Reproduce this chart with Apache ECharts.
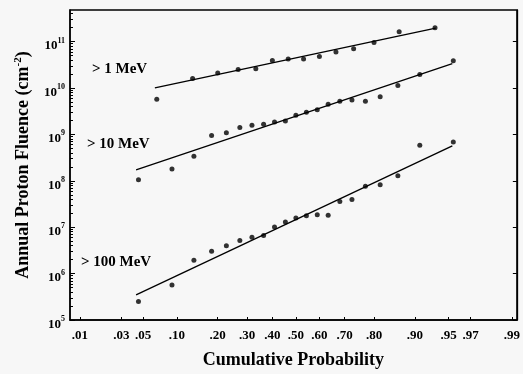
<!DOCTYPE html>
<html>
<head>
<meta charset="utf-8">
<script src="https://cdn.jsdelivr.net/npm/echarts@6/dist/echarts.min.js"></script>
<style>
html,body{margin:0;padding:0;background:#f7f7f7}
#chart{width:523px;height:374px}
</style>
</head>
<body>
<div id="chart"></div>
<script>
// x tick labels (cumulative probability) and y decades
var probTicks = [0.01, 0.03, 0.05, 0.10, 0.20, 0.30, 0.40, 0.50, 0.60, 0.70, 0.80, 0.90, 0.95, 0.97, 0.99];
var decades = [5, 6, 7, 8, 9, 10, 11];

// > 1 MeV, 14 years
var prob1 = [0.067, 0.133, 0.200, 0.267, 0.333, 0.400, 0.467, 0.533, 0.600, 0.667, 0.733, 0.800, 0.867, 0.933];
var flu1 = [5.7e9, 1.6e10, 2.1e10, 2.5e10, 2.6e10, 3.9e10, 4.2e10, 4.2e10, 4.8e10, 6.0e10, 7.0e10, 9.6e10, 1.64e11, 2.0e11];
// > 10 MeV and > 100 MeV, 21 years
var prob21 = [0.045, 0.091, 0.136, 0.182, 0.227, 0.273, 0.318, 0.364, 0.409, 0.455, 0.500, 0.545, 0.591, 0.636, 0.682, 0.727, 0.773, 0.818, 0.864, 0.909, 0.955];
var flu10 = [1.06e8, 1.8e8, 3.4e8, 9.5e8, 1.09e9, 1.41e9, 1.57e9, 1.65e9, 1.85e9, 1.95e9, 2.58e9, 2.99e9, 3.41e9, 4.44e9, 5.21e9, 5.48e9, 5.21e9, 6.49e9, 1.13e10, 1.95e10, 3.88e10];
var flu100 = [2.5e5, 5.7e5, 1.95e6, 3.05e6, 3.98e6, 5.16e6, 6.08e6, 6.61e6, 1.01e7, 1.3e7, 1.58e7, 1.77e7, 1.86e7, 1.8e7, 3.59e7, 3.96e7, 7.66e7, 8.17e7, 1.29e8, 5.87e8, 6.9e8];

// fitted lines (end points)
var fitProb1 = [0.0644, 0.934];
var fitFlu1 = [1.01e10, 1.95e11];
var fitProb = [0.0426, 0.954];
var fitFlu10 = [1.71e8, 3.35e10];
var fitFlu100 = [3.48e5, 5.67e8];

var seriesNames = ['> 1 MeV', '> 10 MeV', '> 100 MeV'];

// inverse normal cdf (Acklam)
function probit(p) {
    var a = [-3.969683028665376e+01, 2.209460984245205e+02, -2.759285104469687e+02, 1.383577518672690e+02, -3.066479806614716e+01, 2.506628277459239e+00];
    var b = [-5.447609879822406e+01, 1.615858368580409e+02, -1.556989798598866e+02, 6.680131188771972e+01, -1.328068155288572e+01];
    var c = [-7.784894002430293e-03, -3.223964580411365e-01, -2.400758277161838e+00, -2.549732539343734e+00, 4.374664141464968e+00, 2.938163982698783e+00];
    var d = [7.784695709041462e-03, 3.224671290700398e-01, 2.445134137142996e+00, 3.754408661907416e+00];
    var pl = 0.02425, q, r;
    if (p < pl) {
        q = Math.sqrt(-2 * Math.log(p));
        return (((((c[0]*q+c[1])*q+c[2])*q+c[3])*q+c[4])*q+c[5]) / ((((d[0]*q+d[1])*q+d[2])*q+d[3])*q+1);
    }
    if (p > 1 - pl) {
        q = Math.sqrt(-2 * Math.log(1 - p));
        return -(((((c[0]*q+c[1])*q+c[2])*q+c[3])*q+c[4])*q+c[5]) / ((((d[0]*q+d[1])*q+d[2])*q+d[3])*q+1);
    }
    q = p - 0.5; r = q * q;
    return (((((a[0]*r+a[1])*r+a[2])*r+a[3])*r+a[4])*r+a[5])*q / (((((b[0]*r+b[1])*r+b[2])*r+b[3])*r+b[4])*r+1);
}

function pts(probs, flus) {
    return probs.map(function (p, i) { return [probit(p), Math.log10(flus[i])]; });
}

var xTicks = probTicks.map(probit);
var yMax = 11.681;
var minorTicks = [];
decades.forEach(function (dd) {
    for (var k = 2; k <= 9; k++) {
        var v = dd + Math.log10(k);
        if (v < yMax) minorTicks.push(v);
    }
});

var serif = '"Liberation Serif", "DejaVu Serif", serif';

let chart = echarts.init(document.getElementById('chart'));
let option = {
    backgroundColor: '#f7f7f7',
    animation: false,
    grid: {
        left: 70, right: 2, top: 10, bottom: 52,
        show: true, borderColor: '#000', borderWidth: 1.3
    },
    xAxis: {
        type: 'value',
        min: -2.433, max: 2.38,
        name: 'Cumulative Probability',
        nameLocation: 'middle',
        nameGap: 31,
        nameTextStyle: { fontFamily: serif, fontWeight: 'bold', fontSize: 18, color: '#000' },
        axisLine: { onZero: false, lineStyle: { color: '#000', width: 1.5 } },
        axisTick: { customValues: xTicks, inside: true, length: 3, lineStyle: { color: '#000' } },
        axisLabel: {
            customValues: xTicks,
            margin: 9,
            fontFamily: serif, fontWeight: 'bold', fontSize: 13, color: '#000',
            formatter: function (v) {
                for (var i = 0; i < xTicks.length; i++) {
                    if (Math.abs(xTicks[i] - v) < 1e-6) {
                        var s = String(Math.round(probTicks[i] * 100));
                        return '.' + (s.length < 2 ? '0' + s : s);
                    }
                }
                return '';
            }
        },
        splitLine: { show: false }
    },
    yAxis: [
        {
            type: 'value',
            min: 5, max: yMax,
            position: 'left',
            name: 'Annual Proton Fluence (cm{s|-2})',
            nameLocation: 'middle',
            nameGap: 37,
            nameRotate: 90,
            nameTextStyle: {
                fontFamily: serif, fontWeight: 'bold', fontSize: 18, color: '#000',
                rich: { s: { fontFamily: serif, fontWeight: 'bold', fontSize: 11, padding: [0, 0, 9, 0], color: '#000' } }
            },
            axisLine: { onZero: false, lineStyle: { color: '#000', width: 1.5 } },
            axisTick: { customValues: decades, inside: true, length: 5, lineStyle: { color: '#000' } },
            axisLabel: {
                customValues: decades,
                margin: 5,
                color: '#000',
                formatter: function (v) { return '{b|10}{s|' + v + '}'; },
                rich: {
                    b: { fontFamily: serif, fontWeight: 'bold', fontSize: 13, color: '#000', padding: [9, 0, 0, 0] },
                    s: { fontFamily: serif, fontWeight: 'bold', fontSize: 8, color: '#000', padding: [0, 0, 2, 0] }
                }
            },
            splitLine: { show: false }
        },
        {
            // minor ticks on the left
            type: 'value',
            min: 5, max: yMax,
            position: 'left',
            axisLine: { show: false, onZero: false },
            axisTick: { customValues: minorTicks, inside: true, length: 3, lineStyle: { color: '#000' } },
            axisLabel: { show: false },
            splitLine: { show: false }
        },
        {
            type: 'value',
            min: 5, max: yMax,
            position: 'right',
            axisLine: { onZero: false, lineStyle: { color: '#000', width: 1.3 } },
            axisTick: { customValues: decades, inside: true, length: 4, lineStyle: { color: '#000' } },
            axisLabel: { show: false },
            splitLine: { show: false }
        }
    ],
    graphic: [
        { type: 'text', left: 92, top: 62, style: { text: seriesNames[0], font: 'bold 15px ' + serif, fill: '#000' } },
        { type: 'text', left: 87, top: 137, style: { text: seriesNames[1], font: 'bold 15px ' + serif, fill: '#000' } },
        { type: 'text', left: 81, top: 255, style: { text: seriesNames[2], font: 'bold 15px ' + serif, fill: '#000' } }
    ],
    series: [
        { name: seriesNames[0], type: 'scatter', symbolSize: 5, itemStyle: { color: '#000' }, data: pts(prob1, flu1) },
        { name: seriesNames[1], type: 'scatter', symbolSize: 5, itemStyle: { color: '#000' }, data: pts(prob21, flu10) },
        { name: seriesNames[2], type: 'scatter', symbolSize: 5, itemStyle: { color: '#000' }, data: pts(prob21, flu100) },
        { type: 'line', symbol: 'none', lineStyle: { color: '#000', width: 1.3 }, data: pts(fitProb1, fitFlu1) },
        { type: 'line', symbol: 'none', lineStyle: { color: '#000', width: 1.3 }, data: pts(fitProb, fitFlu10) },
        { type: 'line', symbol: 'none', lineStyle: { color: '#000', width: 1.3 }, data: pts(fitProb, fitFlu100) }
    ]
};
chart.setOption(option);
</script>
</body>
</html>
